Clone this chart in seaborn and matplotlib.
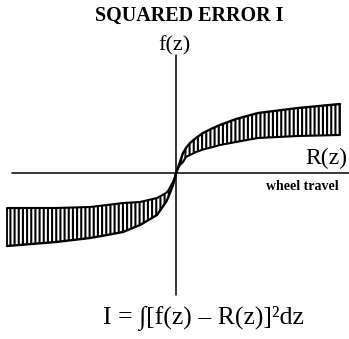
import matplotlib
matplotlib.use("Agg")
import matplotlib.pyplot as plt
import seaborn as sns
import numpy as np

# wheel travel z (arbitrary units) and the two characteristics
z = [-169, -120, -86, -69, -53, -36, -19, -10, -8, -3, -1, 0,
     2, 4, 7, 10, 14, 20, 27, 37, 44, 60, 82, 122, 164]
f_z = [-73, -69, -65, -62, -59, -52, -42, -29, -25, -12, -5, 0,
       5.5, 11, 20, 25, 30, 35, 40, 45, 48, 54, 60, 65, 69]
R_z = [-35, -35, -34, -32, -30, -29, -25, -20, -18, -9, -4, 0,
       4.5, 8, 11, 16, 18, 21, 23.5, 26, 28, 31, 35, 37, 38]

title = "SQUARED ERROR I"
f_label = "f(z)"
r_label = "R(z)"
x_label = "wheel travel"
formula = "I = \u222b[f(z) \u2013 R(z)]\u00b2dz"

sns.set_theme(style="white")
plt.rcParams["font.family"] = ["Liberation Serif", "DejaVu Serif"]
plt.rcParams["text.color"] = "black"
plt.rcParams["hatch.color"] = "black"
plt.rcParams["hatch.linewidth"] = 1.5

fig = plt.figure(figsize=(3.49, 3.39), dpi=100)
ax = fig.add_axes([0, 0, 1, 1])
ax.set_xlim(-176, 173)
ax.set_ylim(-166, 173)
ax.set_axis_off()

# coordinate axes
ax.axhline(0, xmin=12 / 349, xmax=1.0, color="black", lw=1.1)
ax.axvline(0, ymin=(339 - 295) / 339, ymax=(339 - 55) / 339, color="black", lw=1.1)

# hatched error band between the two curves
ax.fill_between(z, R_z, f_z, facecolor="none", edgecolor="black",
                hatch="||||", linewidth=0)
sns.lineplot(x=z, y=f_z, color="black", lw=1.7, ax=ax, sort=True)
sns.lineplot(x=z, y=R_z, color="black", lw=1.5, ax=ax, sort=True)
ax.vlines([z[0], z[-1]], [f_z[0], R_z[-1]], [R_z[0], f_z[-1]], color="black", lw=1.3)

fig.text(189 / 349, 1 - 16 / 339, title, ha="center", va="center",
         fontsize=14.5, fontweight="bold")
fig.text(174 / 349, 1 - 46 / 339, f_label, ha="center", va="center", fontsize=16)
fig.text(326 / 349, 1 - 158 / 339, r_label, ha="center", va="center", fontsize=17)
fig.text(302 / 349, 1 - 186 / 339, x_label, ha="center", va="center",
         fontsize=10, fontweight="bold")
fig.text(203 / 349, 1 - 318 / 339, formula, ha="center", va="center", fontsize=18.5)

fig.savefig("out.png", dpi=100)
